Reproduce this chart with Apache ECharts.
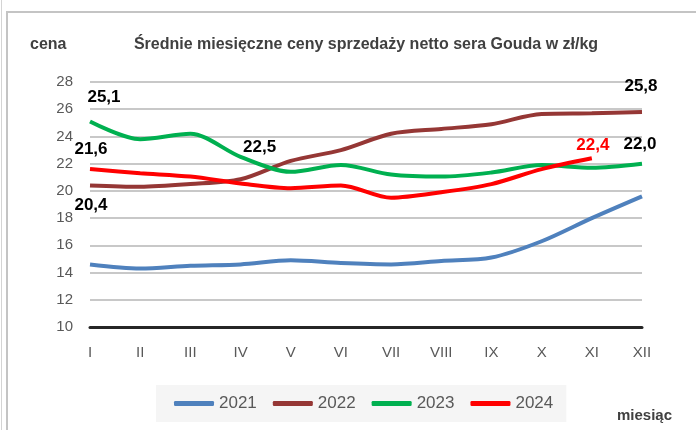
<!DOCTYPE html>
<html>
<head>
<meta charset="utf-8">
<script src="https://cdn.jsdelivr.net/npm/echarts@6/dist/echarts.min.js"></script>
<style>
  html, body { margin: 0; padding: 0; background: #fff; }
  #chart { width: 696px; height: 430px; }
</style>
</head>
<body>
<div id="chart"></div>
<script>
  // months (roman numerals) and yearly series, zł/kg
  var months = ['I', 'II', 'III', 'IV', 'V', 'VI', 'VII', 'VIII', 'IX', 'X', 'XI', 'XII'];
  var years = ['2021', '2022', '2023', '2024'];
  var price2021 = [14.6, 14.3, 14.5, 14.6, 14.9, 14.7, 14.6, 14.85, 15.1, 16.3, 18.0, 19.6];
  var price2022 = [20.4, 20.3, 20.5, 20.85, 22.2, 23.0, 24.2, 24.55, 24.9, 25.65, 25.7, 25.8];
  var price2023 = [25.1, 23.8, 24.2, 22.5, 21.4, 21.9, 21.2, 21.05, 21.35, 21.9, 21.7, 22.0];
  var price2024 = [21.6, 21.3, 21.05, 20.55, 20.2, 20.4, 19.5, 19.9, 20.5, 21.6, 22.4];
  var yMin = 10, yMax = 28, yStep = 2;

  var colors = ['#4f81bd', '#953735', '#00b050', '#ff0000'];
  var font = 'Liberation Sans';

  // which points get a value label: [dx, dy, colour]
  var labelSpots = [
    {},
    { 0: [1, 20, '#000'], 11: [-1, -26, '#000'] },
    { 0: [14, -24, '#000'], 3: [19, -10, '#000'], 11: [-2, -19, '#000'] },
    { 0: [1, -20, '#000'], 10: [1, -13, '#ff0000'] }
  ];

  function withLabels(values, spots) {
    return values.map(function (v, i) {
      var s = spots[i];
      if (!s) return v;
      return {
        value: v,
        label: {
          show: true,
          position: 'inside',
          offset: [s[0], s[1]],
          color: s[2],
          fontFamily: font,
          fontWeight: 'bold',
          fontSize: 17,
          formatter: function (p) { return p.value.toFixed(1).replace('.', ','); }
        }
      };
    });
  }

  var allSeries = [price2021, price2022, price2023, price2024];

  var chart = echarts.init(document.getElementById('chart'));
  chart.setOption({
    animation: false,
    backgroundColor: '#fff',
    grid: { left: 90, right: 54, top: 82, bottom: 103, containLabel: false },
    title: [
      {
        text: 'Średnie miesięczne ceny sprzedaży netto sera Gouda w zł/kg',
        left: 361, top: 32, textAlign: 'center',
        textStyle: { fontFamily: font, fontSize: 16, fontWeight: 'bold', color: '#404040' }
      },
      {
        text: 'cena', left: 25, top: 32,
        textStyle: { fontFamily: font, fontSize: 16, fontWeight: 'bold', color: '#404040' }
      },
      {
        text: 'miesiąc', left: 612, top: 403,
        textStyle: { fontFamily: font, fontSize: 15, fontWeight: 'bold', color: '#404040' }
      }
    ],
    legend: {
      data: years,
      left: 156, top: 385,
      padding: [10, 13, 10, 18],
      itemGap: 16,
      itemWidth: 40, itemHeight: 5,
      icon: 'roundRect',
      backgroundColor: '#f5f5f5',
      textStyle: { fontFamily: font, fontSize: 17, color: '#595959' }
    },
    xAxis: {
      type: 'category',
      data: months,
      boundaryGap: false,
      axisLine: { lineStyle: { color: '#262626', width: 3 } },
      axisTick: { show: false },
      axisLabel: { fontFamily: font, fontSize: 15, color: '#595959', margin: 18 },
      splitLine: { show: false }
    },
    yAxis: {
      type: 'value',
      min: yMin, max: yMax, interval: yStep,
      axisLine: { show: false },
      axisTick: { show: false },
      axisLabel: { fontFamily: font, fontSize: 15, color: '#595959', margin: 17 },
      splitLine: { lineStyle: { color: '#c8c8c8', width: 2 } }
    },
    series: allSeries.map(function (vals, k) {
      return {
        name: years[k],
        type: 'line',
        data: withLabels(vals, labelSpots[k]),
        smooth: 0.3,
        symbol: 'circle',
        symbolSize: 0,
        showSymbol: true,
        itemStyle: { color: colors[k] },
        lineStyle: { color: colors[k], width: 4 },
        emphasis: { disabled: true },
        z: 2 + k
      };
    }),
    graphic: [
      {
        type: 'line',
        shape: { x1: 1.5, y1: 0, x2: 1.5, y2: 430 },
        style: { stroke: '#d4d4d4', lineWidth: 1 }
      },
      {
        type: 'polyline',
        shape: { points: [[7, 430], [7, 12], [696, 12]] },
        style: { stroke: '#c4c4c4', lineWidth: 2, fill: null }
      }
    ]
  });
</script>
</body>
</html>
